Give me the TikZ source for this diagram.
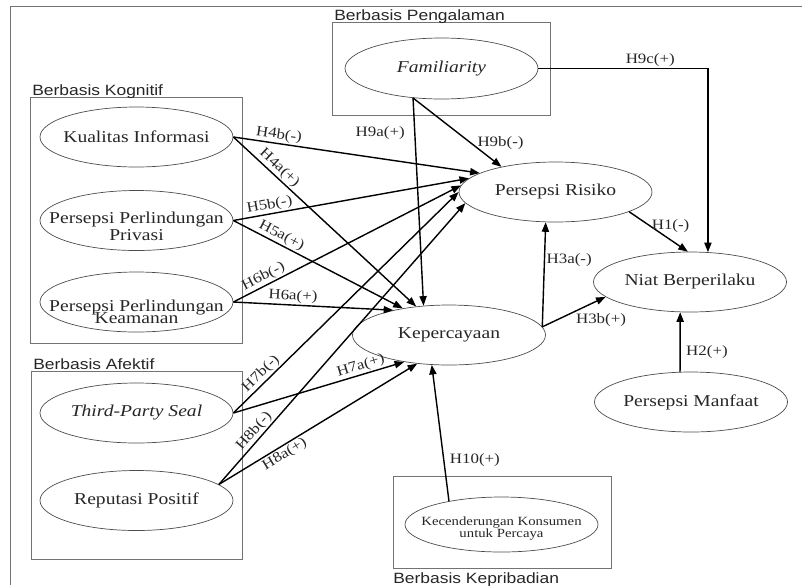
\documentclass[tikz,border=0pt]{standalone}
\usepackage{fontspec}
\setmainfont{Liberation Serif}[FakeStretch=1.18]
\setsansfont{Liberation Sans}[FakeStretch=1.17]
\usepackage{xcolor}
\usepackage{tikz}
\usetikzlibrary{shapes.geometric,arrows.meta}
\setlength{\lineskiplimit}{-20pt}

\begin{document}
\begin{tikzpicture}[x=0.25mm, y=-0.25mm,
konstruk/.style={ellipse, draw=black!70, line width=0.5pt, minimum width=48.25mm, minimum height=15mm, inner sep=0pt},
teks/.style={align=center, text=black!85, font=\fontsize{11.8}{12}\selectfont},
kotak/.style={draw=black!55, line width=0.6pt},
judul/.style={font=\sffamily\fontsize{10.6}{12}\selectfont, text=black!85, inner sep=0pt},
panah/.style={-{Triangle[length=2.4mm, width=1.8mm]}, line width=1pt},
hipo/.style={font=\fontsize{10.2}{12}\selectfont, text=black!85, inner sep=1pt},
]
\useasboundingbox (0,0) rectangle (802,585);

\draw[kotak] (10,585) -- (10,6) -- (802,6);

\draw[kotak] (30,97) rectangle (242,343);
\node[judul, anchor=base west] (jkognitif) at (32,95.5) {Berbasis Kognitif};
\draw[kotak] (31,371) rectangle (242,559);
\node[judul, anchor=base west] (jafektif) at (33,369.5) {Berbasis Afektif};
\draw[kotak] (332,22) rectangle (550,115);
\node[judul, anchor=base west] (jpengalaman) at (334,20.5) {Berbasis Pengalaman};
\draw[kotak] (393,476) rectangle (611,568);
\node[judul, anchor=base west] (jkepribadian) at (393,583) {Berbasis Kepribadian};

\node[konstruk, label={[teks]center:Kualitas Informasi}] (kualitas) at (136.5,137) {};
\node[konstruk, label={[teks, yshift=-1.5mm]center:{Persepsi Perlindungan\\Privasi}}] (privasi) at (136.5,220.5) {};
\node[konstruk, label={[teks, font=\fontsize{11.8}{8.4}\selectfont, yshift=-2.5mm]center:{Persepsi Perlindungan\\Keamanan}}] (keamanan) at (136.5,302) {};
\node[konstruk, label={[teks]center:\textit{Third-Party Seal}}] (seal) at (136.5,413) {};
\node[konstruk, label={[teks]center:Reputasi Positif}] (reputasi) at (136.5,500.5) {};
\node[konstruk, minimum height=15.25mm, label={[teks]center:\textit{Familiarity}}] (familiar) at (441.5,68.5) {};
\node[konstruk, label={[teks]center:Persepsi Risiko}] (risiko) at (555.5,192) {};
\node[konstruk, label={[teks]center:Kepercayaan}] (kepercayaan) at (449,335) {};
\node[konstruk, label={[teks]center:Niat Berperilaku}] (niat) at (690,282) {};
\node[konstruk, label={[teks]center:Persepsi Manfaat}] (manfaat) at (691,402) {};
\node[konstruk, minimum height=13.75mm, label={[teks, font=\fontsize{8.9}{8.8}\selectfont, yshift=-1mm]center:{Kecenderungan Konsumen\\untuk Percaya}}] (kecenderungan) at (501.5,524.5) {};

\draw[panah] (kualitas.east) -- node[hipo, sloped, above, pos=0.18] {H4b(-)} (risiko.166);
\draw[panah] (kualitas.east) -- node[hipo, sloped, above, pos=0.22] {H4a(+)} (kepercayaan.139);
\draw[panah] (privasi.east) -- node[hipo, sloped, above, pos=0.16] {H5b(-)} (risiko.171);
\draw[panah] (privasi.east) -- node[hipo, sloped, above, pos=0.26] {H5a(+)} (kepercayaan.150);
\draw[panah] (keamanan.east) -- node[hipo, sloped, above, pos=0.15] {H6b(-)} (risiko.176);
\draw[panah] (keamanan.east) -- node[hipo, sloped, above, pos=0.37] {H6a(+)} (kepercayaan.156);
\draw[panah] (seal.east) -- node[hipo, sloped, above, pos=0.15] {H7b(-)} (risiko.180);
\draw[panah] (seal.east) -- node[hipo, sloped, above, pos=0.76] {H7a(+)} (kepercayaan.211);
\draw[panah] (reputasi.11) -- node[hipo, sloped, above, pos=0.17] {H8b(-)} (risiko.187);
\draw[panah] (reputasi.11) -- node[hipo, sloped, below, pos=0.31] {H8a(+)} (kepercayaan.222);

\draw[panah] (familiar.226) -- node[hipo, pos=0.17, left=2mm] {H9a(+)} (kepercayaan.131);
\draw[panah] (familiar.226) -- node[hipo, pos=0.66, right=1mm] {H9b(-)} (risiko.155);
\draw[panah] (familiar.east) -| node[hipo, pos=0.33, above] {H9c(+)} (niat.59);

\draw[panah] (risiko.-15) -- node[hipo, pos=0.35, anchor=west] {H1(-)} (niat.94);
\draw[panah] (kepercayaan.5) -- node[hipo, pos=0.64, right] {H3a(-)} (risiko.252);
\draw[panah] (kepercayaan.5) -- node[hipo, pos=0.5, anchor=north west] {H3b(+)} (niat.190);
\draw[panah] (manfaat.110) -- node[hipo, pos=0.33, right=1mm] {H2(+)} (niat.252);
\draw[panah] (kecenderungan.156) -- node[hipo, pos=0.3, right=1mm] {H10(+)} (kepercayaan.240);

\end{tikzpicture}
\end{document}
